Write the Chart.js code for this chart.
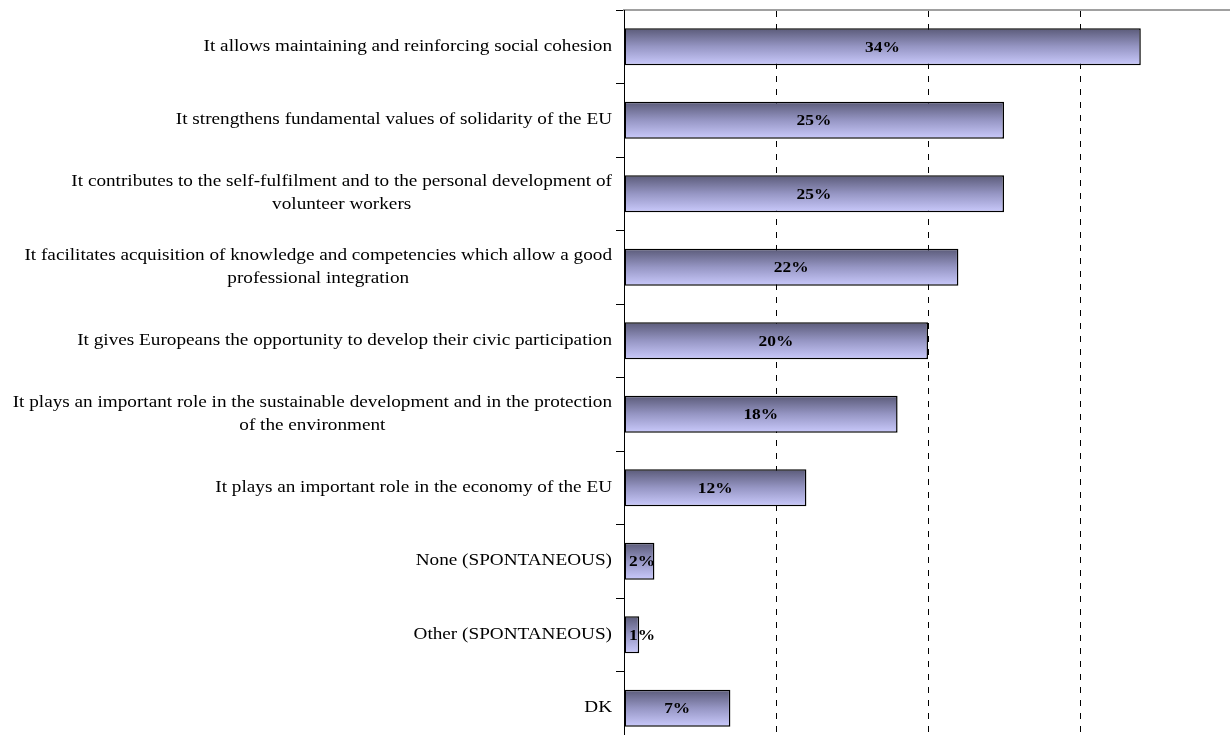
<!DOCTYPE html>
<html>
<head>
<meta charset="utf-8">
<script src="https://cdn.jsdelivr.net/npm/chart.js@4/dist/chart.umd.min.js"></script>
<style>
  html, body { margin: 0; padding: 0; background: #fff; overflow: hidden; }
  #wrap { position: relative; width: 1232px; height: 745px; }
</style>
</head>
<body>
<div id="wrap"><canvas id="chart"></canvas></div>
<script>
// Reasons given for the importance of volunteering (share of respondents)
const categories = [
  ["It allows maintaining and reinforcing social cohesion"],
  ["It strengthens fundamental values of solidarity of the EU"],
  ["It contributes to the self-fulfilment and to the personal development of", "volunteer workers"],
  ["It facilitates acquisition of knowledge and competencies which allow a good", "professional integration"],
  ["It gives Europeans the opportunity to develop their civic participation"],
  ["It plays an important role in the sustainable development and in the protection", "of the environment"],
  ["It plays an important role in the economy of the EU"],
  ["None (SPONTANEOUS)"],
  ["Other (SPONTANEOUS)"],
  ["DK"]
];
const values = [34, 25, 25, 22, 20, 18, 12, 2, 1, 7];
const xMin = 0;
const xMax = 40;
const xStep = 10;

const BAR_PCT = 0.505;
const TEXT_STRETCH = 1.2; // wide serif lettering
const labelFont = '16px "Liberation Serif", "Times New Roman", serif';
const valueFont = 'bold 14.5px "Liberation Serif", "Times New Roman", serif';

// Vertical gradient per bar: dark slate on top, pale lavender below
function barGradient(ctx) {
  const chart = ctx.chart;
  const y = chart.scales && chart.scales.y;
  if (!y || !chart.chartArea || ctx.dataIndex === undefined) return '#9a9ac8';
  const cy = y.getPixelForValue(ctx.dataIndex);
  const half = (y.height / categories.length) * BAR_PCT / 2;
  if (!isFinite(cy) || !isFinite(half)) return '#9a9ac8';
  const g = chart.ctx.createLinearGradient(0, cy - half, 0, cy + half);
  g.addColorStop(0, '#5a5a78');
  g.addColorStop(0.5, '#9696c4');
  g.addColorStop(1, '#cacafc');
  return g;
}

function stretchedText(ctx, txt, x, y) {
  ctx.save();
  ctx.translate(x, y);
  ctx.scale(TEXT_STRETCH, 1);
  ctx.fillText(txt, 0, 0);
  ctx.restore();
}

// Category labels: block right-aligned against the axis, lines centred within it
const categoryLabels = {
  id: 'categoryLabels',
  afterDraw(chart) {
    const y = chart.scales.y;
    const ctx = chart.ctx;
    ctx.save();
    ctx.font = labelFont;
    ctx.fillStyle = '#000';
    ctx.textBaseline = 'middle';
    ctx.textAlign = 'center';
    const right = y.right - 12;
    const lineH = 23;
    categories.forEach((lines, i) => {
      const cy = y.getPixelForTick(i);
      const w = Math.max(...lines.map(l => ctx.measureText(l).width)) * TEXT_STRETCH;
      const cx = right - w / 2;
      const top = cy - (lines.length - 1) * lineH / 2;
      lines.forEach((l, k) => stretchedText(ctx, l, cx, top + k * lineH));
    });
    ctx.restore();
  }
};

// Percentage labels centred on each bar
const valueLabels = {
  id: 'valueLabels',
  afterDatasetsDraw(chart) {
    const ctx = chart.ctx;
    const meta = chart.getDatasetMeta(0);
    ctx.save();
    ctx.font = valueFont;
    ctx.fillStyle = '#000';
    ctx.textAlign = 'center';
    ctx.textBaseline = 'middle';
    const x0 = chart.scales.x.getPixelForValue(0);
    meta.data.forEach((bar, i) => {
      const cx = (x0 + bar.x) / 2;
      const txt = values[i] + '%';
      const tw = ctx.measureText(txt).width * TEXT_STRETCH;
      stretchedText(ctx, txt, Math.max(cx, x0 + tw / 2 + 5), bar.y + 1);
    });
    ctx.restore();
  }
};

new Chart(document.getElementById('chart'), {
  type: 'bar',
  data: {
    labels: categories.map(c => c.join(' ')),
    datasets: [{
      data: values,
      backgroundColor: barGradient,
      borderColor: '#000',
      borderWidth: 1.5,
      borderSkipped: false,
      barPercentage: BAR_PCT,
      categoryPercentage: 1
    }]
  },
  options: {
    indexAxis: 'y',
    responsive: true,
    maintainAspectRatio: false,
    animation: false,
    layout: { padding: { top: 10, right: 0, bottom: 0, left: 0 } },
    plugins: { legend: { display: false }, tooltip: { enabled: false } },
    scales: {
      x: {
        position: 'top',
        min: xMin,
        max: xMax,
        ticks: { display: false, stepSize: xStep },
        grid: {
          drawTicks: false,
          color: (c) => (c.tick && (c.tick.value === xMin || c.tick.value === xMax)) ? 'rgba(0,0,0,0)' : '#000',
          lineWidth: 1
        },
        border: { display: true, color: '#a0a0a0', width: 2, dash: [6, 7] }
      },
      y: {
        ticks: { display: false },
        grid: {
          offset: true,
          drawOnChartArea: false,
          drawTicks: true,
          tickLength: 8,
          color: '#000'
        },
        border: { display: true, color: '#000', width: 1 },
        afterFit(scale) { scale.width = 624; }
      }
    }
  },
  plugins: [categoryLabels, valueLabels]
});
</script>
</body>
</html>
